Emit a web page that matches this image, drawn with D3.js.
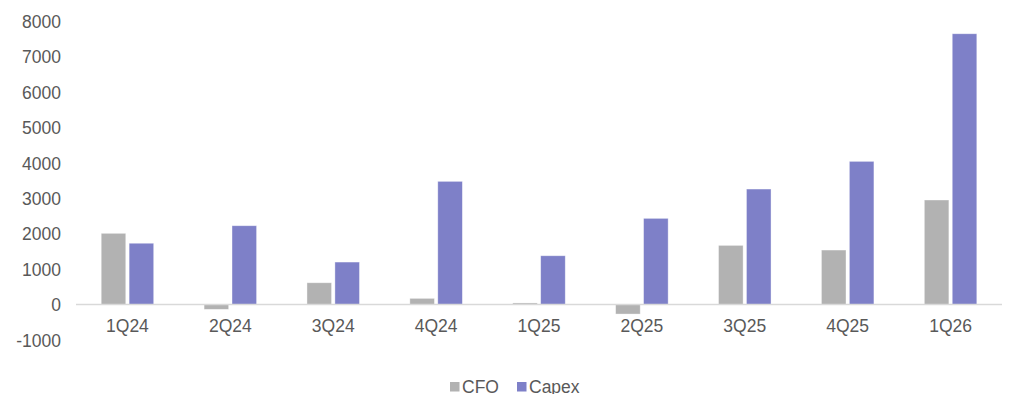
<!DOCTYPE html>
<html>
<head>
<meta charset="utf-8">
<script src="https://cdn.jsdelivr.net/npm/d3@7"></script>
<style>
  html, body { margin: 0; padding: 0; background: #ffffff; }
  svg { display: block; font-family: "Liberation Sans", Arial, sans-serif; }
</style>
</head>
<body>
<svg id="chart" width="1011" height="394"></svg>
<script>
// Quarterly cash flow from operations vs capital expenditure
const quarters = ["1Q24", "2Q24", "3Q24", "4Q24", "1Q25", "2Q25", "3Q25", "4Q25", "1Q26"];
const cfo   = [2010, -135, 615, 175, 45, -268, 1670, 1538, 2950];
const capex = [1730, 2224, 1199, 3476, 1377, 2432, 3259, 4040, 7640];
const yTicks = [-1000, 0, 1000, 2000, 3000, 4000, 5000, 6000, 7000, 8000];
const seriesNames = ["CFO", "Capex"];
const seriesColors = ["#b2b2b2", "#7e80c8"];

const svg = d3.select("#chart");
const margin = { left: 76, right: 9, top: 21, bottom: 54 };
const width = 1011, height = 394;
const fontSize = "17.5px";

const x = d3.scaleBand()
  .domain(quarters)
  .range([margin.left, width - margin.right])
  .paddingInner(0)
  .paddingOuter(0);

const x1 = d3.scaleBand()
  .domain(seriesNames)
  .range([25.2, 25.2 + 52.5])
  .paddingInner(0.12);

const y = d3.scaleLinear()
  .domain([-1000, 8000])
  .range([height - margin.bottom, margin.top]);

const color = d3.scaleOrdinal().domain(seriesNames).range(seriesColors);

// y axis labels only (no line, no ticks); plain hyphen for negatives
const yAxis = svg.append("g")
  .attr("transform", `translate(${margin.left - 15},0)`)
  .call(d3.axisLeft(y).tickValues(yTicks).tickSize(0).tickPadding(0).tickFormat(d => String(d)));
yAxis.select(".domain").remove();
yAxis.selectAll("text")
  .attr("fill", "#595959")
  .attr("dy", "0.36em")
  .style("font-size", fontSize)
  .style("font-family", "\"Liberation Sans\", Arial, sans-serif");

// bars
const rows = quarters.map((q, i) => ({ q, values: [cfo[i], capex[i]] }));
const groups = svg.append("g").selectAll("g")
  .data(rows)
  .join("g")
  .attr("transform", d => `translate(${x(d.q)},0)`);

groups.selectAll("rect")
  .data(d => d.values.map((v, k) => ({ key: seriesNames[k], v })))
  .join("rect")
  .attr("x", d => x1(d.key))
  .attr("width", x1.bandwidth())
  .attr("y", d => y(Math.max(0, d.v)))
  .attr("height", d => Math.abs(y(d.v) - y(0)))
  .attr("fill", d => color(d.key))
  .attr("stroke", "#ffffff")
  .attr("stroke-opacity", 0.5)
  .attr("stroke-width", 0.75);

// zero line
svg.append("line")
  .attr("x1", margin.left)
  .attr("x2", width - margin.right)
  .attr("y1", y(0))
  .attr("y2", y(0))
  .attr("stroke", "#d9d9d9")
  .attr("stroke-width", 1.5);

// category labels
const xAxis = svg.append("g")
  .attr("transform", `translate(0,${y(0) + 15})`)
  .call(d3.axisBottom(x).tickSize(0).tickPadding(0));
xAxis.select(".domain").remove();
xAxis.selectAll("text")
  .attr("fill", "#595959")
  .style("font-size", fontSize)
  .style("font-family", "\"Liberation Sans\", Arial, sans-serif");

// legend
const legend = svg.append("g").attr("transform", "translate(450,392.5)");
const legendOffsets = [0, 67];
seriesNames.forEach((name, i) => {
  const g = legend.append("g").attr("transform", `translate(${legendOffsets[i]},0)`);
  g.append("rect")
    .attr("x", 0).attr("y", -10.5)
    .attr("width", 9.5).attr("height", 9.5)
    .attr("fill", seriesColors[i]);
  g.append("text")
    .attr("x", 12).attr("y", 0)
    .attr("fill", "#595959")
    .style("font-size", fontSize)
    .text(name);
});
</script>
</body>
</html>
